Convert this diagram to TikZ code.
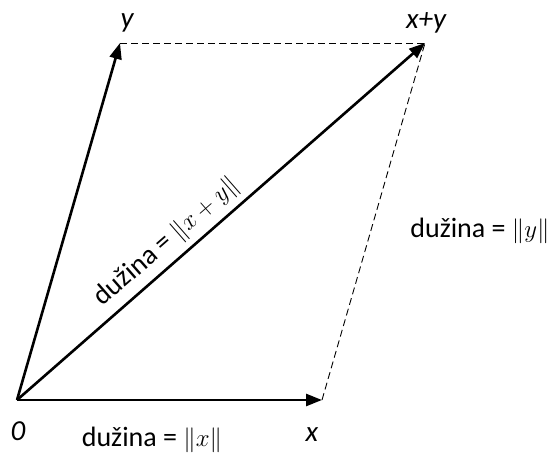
\documentclass[tikz,border=0pt]{standalone}
\usepackage{fontspec}
\setmainfont{Carlito}
\usepackage{tikz}
\usetikzlibrary{arrows.meta,positioning,calc}

\begin{document}
\begin{tikzpicture}[
    x=1pt,y=1pt,
    vek/.style   = {-{Triangle[length=16pt,width=12pt]}, line width=2.6pt},
    crt/.style   = {line width=0.9pt, dash pattern=on 7pt off 4pt},
    oznaka/.style= {font=\fontsize{29}{33}\selectfont\itshape, inner sep=1pt},
    duz/.style   = {font=\fontsize{28}{32}\selectfont, inner sep=1pt},
  ]
  \useasboundingbox (0,0) rectangle (559,455);

  % tocke paralelograma
  \coordinate (O) at (17,55);
  \coordinate (X) at (322,55);
  \coordinate (Y) at (120,412);
  \coordinate (S) at (425,412);

  % isprekidane stranice
  \draw[crt] (Y) -- (S);
  \draw[crt] (X) -- (S);

  % vektori
  \draw[vek] (O) -- (X);
  \draw[vek] (O) -- (Y);
  \draw[vek] (O) -- node[duz, sloped, above=5pt, pos=0.40] (ds)
       {dužina = $\|x+y\|$} (S);

  % oznake vrhova
  \node[oznaka] (o)  at (18,24)   {0};
  \node[oznaka] (x)  at (312,20)  {x};
  \node[oznaka] (y)  at (127,432) {y};
  \node[oznaka] (xy) at (426,432) {x+y};

  % duljine
  \node[duz] (dx) at (152,15)  {dužina = $\|x\|$};
  \node[duz] (dy) at (480,224) {dužina = $\|y\|$};
\end{tikzpicture}
\end{document}
